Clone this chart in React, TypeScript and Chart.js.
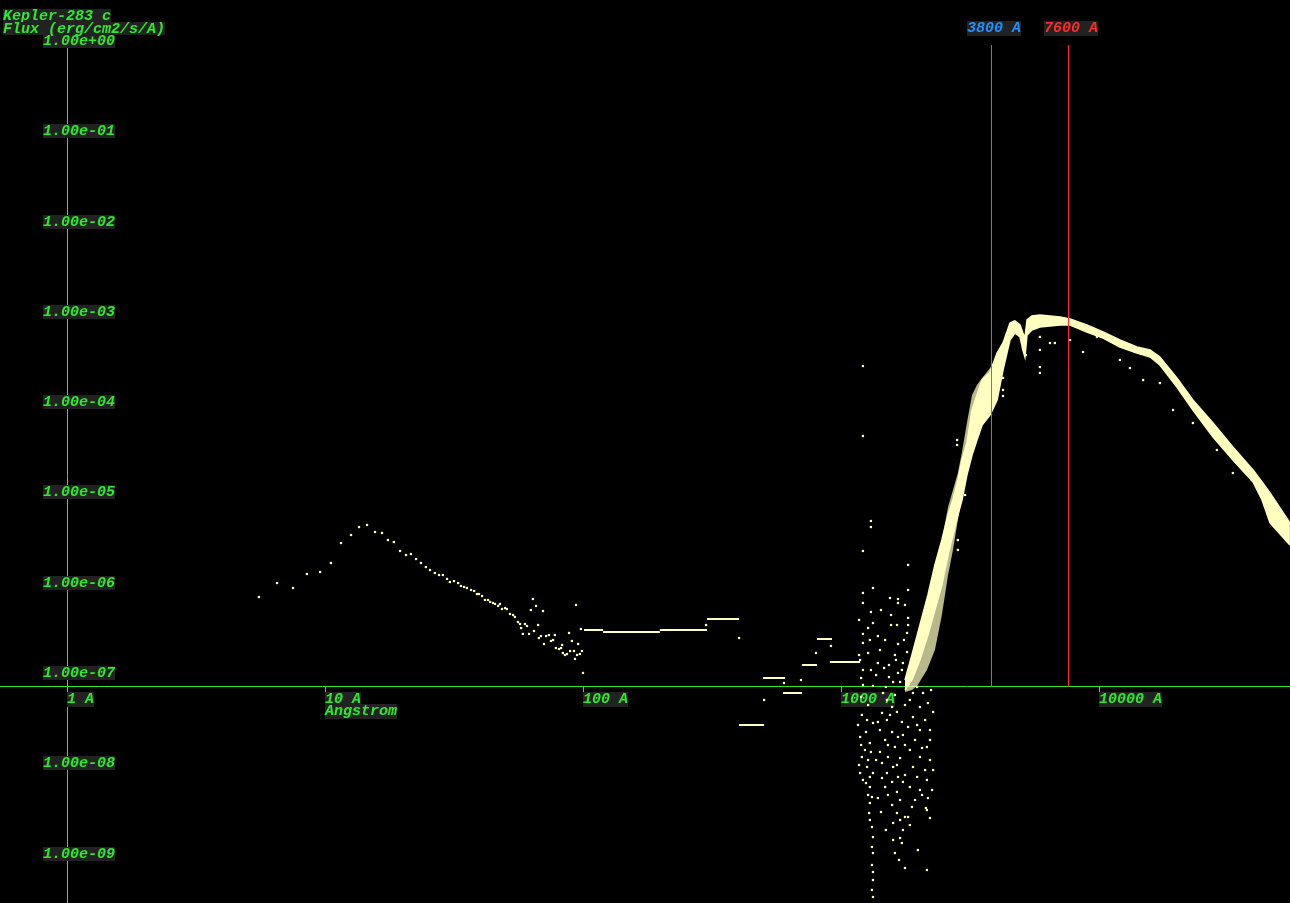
import React, { useEffect, useRef } from 'react';
import { Chart, registerables } from 'chart.js';

Chart.register(...registerables);

// ---------- axis ranges and labels ----------
const X_MIN = 0.55;      // Angstrom at left edge
const X_MAX = 55000;     // Angstrom at right edge
const Y_MIN = 3.4e-10;   // flux at bottom edge
const Y_MAX = 3.4;       // flux at top edge
const X_AXIS_FLUX = 8.6e-8; // flux level where the wavelength axis is drawn
const Y_AXIS_WAVE = 1;      // wavelength where the flux axis is drawn

const titleLines = ['Kepler-283 c', 'Flux (erg/cm2/s/A)'];
const xAxisName = 'Angstrom';
const xTickValues = [1, 10, 100, 1000, 10000];
const xTickLabels = ['1 A', '10 A', '100 A', '1000 A', '10000 A'];
const yTickValues = [1, 1e-1, 1e-2, 1e-3, 1e-4, 1e-5, 1e-6, 1e-7, 1e-8, 1e-9];
const yTickLabels = ['1.00e+00', '1.00e-01', '1.00e-02', '1.00e-03', '1.00e-04', '1.00e-05', '1.00e-06', '1.00e-07', '1.00e-08', '1.00e-09'];
const markerWaves = [3800, 7600];
const markerLabels = ['3800 A', '7600 A'];
const markerColors = ['#1e90ff', '#ff2a2a'];

// ---------- data (log10 wavelength [A], log10 flux) ----------
const xrayLogLambda = [0.744, 0.814, 0.876, 0.930, 0.981, 1.023, 1.062, 1.101, 1.132, 1.163,
  1.194, 1.221, 1.244, 1.267, 1.291, 1.314, 1.333, 1.353, 1.372, 1.391,
  1.407, 1.426, 1.442, 1.457, 1.473, 1.484, 1.500, 1.516, 1.527, 1.539,
  1.550, 1.566, 1.578, 1.589, 1.597, 1.609, 1.620, 1.632, 1.640, 1.651,
  1.659, 1.671, 1.678, 1.686, 1.698, 1.705, 1.717, 1.729, 1.736, 1.748,
  1.756, 1.760, 1.767, 1.775, 1.783, 1.791, 1.798, 1.806, 1.810, 1.818,
  1.826, 1.829, 1.837, 1.845, 1.849, 1.857, 1.868, 1.876, 1.884, 1.891,
  1.895, 1.907, 1.915, 1.919, 1.922, 1.930, 1.938, 1.946, 1.950, 1.957,
  1.965, 1.969, 1.973, 1.977, 1.981, 1.988, 1.992, 1.996, 2.000];
const xrayLogFlux = [-6.080, -5.925, -5.980, -5.825, -5.803, -5.703, -5.482, -5.393, -5.305, -5.282,
  -5.360, -5.371, -5.449, -5.471, -5.570, -5.615, -5.604, -5.659, -5.703, -5.748,
  -5.781, -5.814, -5.836, -5.836, -5.880, -5.914, -5.903, -5.925, -5.958, -5.969,
  -5.980, -6.002, -6.013, -6.047, -6.047, -6.069, -6.113, -6.113, -6.135, -6.146,
  -6.157, -6.179, -6.157, -6.213, -6.202, -6.213, -6.268, -6.279, -6.301, -6.357,
  -6.379, -6.423, -6.489, -6.379, -6.401, -6.489, -6.224, -6.102, -6.456, -6.179,
  -6.390, -6.534, -6.512, -6.235, -6.600, -6.512, -6.501, -6.567, -6.556, -6.501,
  -6.645, -6.656, -6.645, -6.611, -6.700, -6.722, -6.711, -6.478, -6.678, -6.567,
  -6.678, -6.766, -6.168, -6.722, -6.600, -6.711, -6.434, -6.678, -6.921];

// flat EUV bins (start, end, flux)
const binStartLogLambda = [2.004, 2.078, 2.298, 2.481, 2.605, 2.698, 2.775, 2.849, 2.907, 2.957];
const binEndLogLambda = [2.078, 2.298, 2.481, 2.605, 2.702, 2.783, 2.849, 2.907, 2.965, 3.074];
const binLogFlux = [-6.445, -6.467, -6.445, -6.323, -7.497, -6.977, -7.143, -6.833, -6.545, -6.800];

const euvLogLambda = [2.477, 2.605, 2.702, 2.779, 2.845, 2.903, 2.961];
const euvLogFlux = [-6.390, -6.534, -7.220, -7.032, -6.999, -6.700, -6.622];

// scattered far-UV points [log10 lambda, log10 flux]
const uvCloud: [number, number][] = [
  [3.085, -3.522], [3.085, -4.297], [3.116, -5.238], [3.116, -5.305], [3.085, -5.570],
  [3.260, -5.725], [3.124, -5.980], [3.260, -6.002], [3.085, -6.035], [3.190, -6.091],
  [3.221, -6.102], [3.085, -6.146], [3.221, -6.146], [3.116, -6.246], [3.194, -6.279],
  [3.260, -6.312], [3.070, -6.334], [3.124, -6.368], [3.194, -6.390], [3.217, -6.390],
  [3.260, -6.390], [3.085, -6.489], [3.143, -6.512], [3.256, -6.478], [3.085, -6.589],
  [3.221, -6.600], [3.105, -6.700], [3.070, -6.722], [3.256, -6.689], [3.143, -6.811],
  [3.186, -6.833], [3.240, -6.811], [3.085, -6.888], [3.116, -6.888], [3.221, -6.921],
  [3.186, -6.966], [3.078, -6.977], [3.267, -6.966], [3.229, -7.021], [3.174, -7.076],
  [3.124, -7.065],
  [3.151, -6.667], [3.171, -6.556], [3.209, -6.722], [3.136, -6.944], [3.202, -7.021],
  [3.236, -6.888], [3.105, -6.423], [3.155, -6.224], [3.244, -6.556], [3.074, -6.777],
  [3.167, -6.866], [3.213, -6.777], [3.112, -6.556], [3.248, -6.168],
  [3.450, -4.341], [3.450, -4.396], [3.453, -5.449], [3.453, -5.559], [3.481, -4.950],
  [3.628, -3.654], [3.628, -3.787], [3.628, -3.854],
  // below the wavelength axis
  [3.085, -7.054], [3.081, -7.386], [3.101, -7.442], [3.074, -7.630], [3.112, -7.697],
  [3.093, -7.774], [3.081, -7.852], [3.105, -7.885], [3.101, -7.962], [3.074, -8.029],
  [3.112, -8.073], [3.085, -8.106], [3.112, -8.184], [3.105, -8.272], [3.112, -8.361],
  [3.109, -8.472], [3.120, -8.627], [3.124, -8.738], [3.120, -8.848], [3.124, -8.915],
  [3.120, -9.048], [3.124, -9.125], [3.124, -9.214], [3.120, -9.324], [3.124, -9.402],
  [3.124, -7.475], [3.124, -8.029],
  [3.066, -7.497], [3.097, -7.575], [3.116, -7.796], [3.070, -7.940], [3.097, -8.140],
  [3.120, -8.295], [3.078, -7.719], [3.105, -7.276], [3.078, -7.187], [3.112, -8.549],
  [3.178, -7.220], [3.198, -7.298], [3.159, -7.364], [3.217, -7.353], [3.178, -7.442],
  [3.236, -7.464], [3.151, -7.553], [3.198, -7.575], [3.221, -7.630], [3.171, -7.663],
  [3.209, -7.741], [3.151, -7.796], [3.182, -7.852], [3.229, -7.863], [3.159, -7.918],
  [3.202, -7.962], [3.178, -8.029], [3.221, -8.073], [3.198, -8.128], [3.171, -8.184],
  [3.217, -8.239], [3.143, -8.306], [3.229, -8.328], [3.198, -8.383], [3.217, -8.472],
  [3.229, -8.549], [3.202, -8.582], [3.248, -8.516], [3.240, -8.660], [3.229, -8.749],
  [3.209, -8.915], [3.248, -9.081], [3.236, -8.804], [3.260, -8.516],
  [3.163, -7.143], [3.209, -7.165], [3.190, -7.386], [3.143, -7.464], [3.240, -7.608],
  [3.182, -7.719], [3.136, -7.885], [3.217, -7.940], [3.159, -8.084], [3.240, -8.128],
  [3.182, -8.272], [3.155, -8.461], [3.202, -8.771], [3.225, -8.992], [3.174, -8.660],
  [3.295, -7.076], [3.318, -7.143], [3.267, -7.220], [3.306, -7.298], [3.337, -7.254],
  [3.279, -7.409], [3.326, -7.442], [3.260, -7.519], [3.306, -7.553], [3.345, -7.553],
  [3.287, -7.663], [3.333, -7.741], [3.267, -7.774], [3.306, -7.852], [3.345, -7.885],
  [3.279, -7.962], [3.326, -7.996], [3.295, -8.073], [3.333, -8.106], [3.267, -8.184],
  [3.306, -8.217], [3.337, -8.306], [3.333, -8.439], [3.287, -8.328], [3.275, -8.405],
  [3.333, -9.103],
  [3.349, -7.110], [3.279, -7.143], [3.248, -7.276], [3.357, -7.353], [3.295, -7.497],
  [3.345, -7.663], [3.248, -7.719], [3.314, -7.752], [3.357, -7.996], [3.248, -8.051],
  [3.314, -8.272], [3.353, -8.217], [3.267, -8.605], [3.345, -8.527], [3.298, -8.882],
  [3.329, -8.417],
];

// absorption-line dips below the stellar continuum
const dipPoints: [number, number][] = [
  [3.771, -3.200], [3.771, -3.344], [3.771, -3.533], [3.771, -3.599], [3.810, -3.267],
  [3.829, -3.267], [3.888, -3.234], [3.938, -3.367], [3.992, -3.200], [4.081, -3.455],
  [4.120, -3.544], [4.171, -3.677], [4.236, -3.710], [4.287, -4.009], [4.364, -4.153],
  [4.457, -4.452], [4.519, -4.707], [3.717, -3.400],
];

// loose envelope of the rising (speckled) UV/blue part of the continuum
const envLogLambda = [3.248, 3.275, 3.295, 3.333, 3.364, 3.391, 3.415, 3.434, 3.453, 3.469,
  3.488, 3.508, 3.527, 3.547, 3.578, 3.605, 3.628];
const envUpperLogFlux = [-7.065, -6.777, -6.556, -6.113, -5.814, -5.449, -5.083, -4.895, -4.707, -4.474,
  -4.153, -3.843, -3.732, -3.654, -3.544, -3.422, -3.267];
const envLowerLogFlux = [-7.132, -7.110, -7.065, -6.888, -6.667, -6.279, -5.836, -5.559, -5.227, -4.983,
  -4.729, -4.452, -4.175, -4.031, -3.898, -3.810, -3.588];

// stellar continuum band (dense core)
const bandLogLambda = [3.248, 3.275, 3.306, 3.337, 3.364, 3.391, 3.415, 3.434, 3.453, 3.469,
  3.488, 3.508, 3.527, 3.547, 3.578, 3.605, 3.628, 3.655, 3.674, 3.694,
  3.705, 3.713, 3.721, 3.740, 3.771, 3.849, 3.888, 3.953, 4.016, 4.081,
  4.147, 4.198, 4.236, 4.302, 4.364, 4.442, 4.519, 4.597, 4.632, 4.663, 4.740];
const bandUpperLogFlux = [-6.999, -6.722, -6.390, -6.058, -5.725, -5.449, -5.172, -5.006, -4.784, -4.563,
  -4.374, -4.009, -3.843, -3.677, -3.588, -3.378, -3.267, -3.045, -3.023, -3.068,
  -3.156, -3.212, -3.012, -2.968, -2.957, -2.979, -3.001, -3.068, -3.145, -3.234,
  -3.311, -3.344, -3.422, -3.654, -3.898, -4.153, -4.419, -4.673, -4.806, -4.928, -5.260];
const bandLowerLogFlux = [-7.110, -6.999, -6.777, -6.501, -6.224, -5.947, -5.615, -5.393, -5.172, -5.006,
  -4.729, -4.507, -4.341, -4.175, -4.064, -3.898, -3.566, -3.234, -3.156, -3.200,
  -3.344, -3.422, -3.178, -3.123, -3.090, -3.068, -3.068, -3.145, -3.212, -3.311,
  -3.378, -3.422, -3.511, -3.754, -4.009, -4.308, -4.563, -4.806, -5.006, -5.260, -5.504];

// ---------- styling ----------
const GREEN = '#2eea2e';
const BOX = '#222222';
const DATA = '#ffffc0';
const DATA_SOFT = 'rgba(255,255,192,0.72)';
const FONT = 'bold italic 15px "Liberation Mono", "DejaVu Sans Mono", monospace';

const pw = (v: number) => Math.pow(10, v);
const pairPts = (a: number[], b: number[]) => a.map((v, i) => ({ x: pw(v), y: pw(b[i]) }));
const listPts = (p: [number, number][]) => p.map(([a, b]) => ({ x: pw(a), y: pw(b) }));

function boxText(ctx: CanvasRenderingContext2D, text: string, left: number, top: number, color: string, h = 14) {
  const w = ctx.measureText(text).width;
  ctx.fillStyle = BOX;
  ctx.fillRect(left, top, w, h);
  ctx.fillStyle = color;
  ctx.fillText(text, left, top + 11);
}

const overlayPlugin = {
  id: 'overlay',
  beforeDraw(chart: any) {
    const { ctx, width, height } = chart;
    ctx.save();
    ctx.fillStyle = '#000';
    ctx.fillRect(0, 0, width, height);
    ctx.restore();
  },
  beforeDatasetsDraw(chart: any) {
    const { ctx, width, height } = chart;
    const xs = chart.scales.x;
    const ys = chart.scales.y;
    const axisY = Math.round(ys.getPixelForValue(X_AXIS_FLUX)) + 0.5;
    const axisX = Math.round(xs.getPixelForValue(Y_AXIS_WAVE)) + 0.5;
    ctx.save();
    ctx.lineWidth = 1;
    ctx.strokeStyle = GREEN;
    ctx.beginPath();
    ctx.moveTo(axisX, Math.round(ys.getPixelForValue(yTickValues[0])));
    ctx.lineTo(axisX, height);
    ctx.stroke();
    ctx.beginPath();
    ctx.moveTo(0, axisY);
    ctx.lineTo(width, axisY);
    ctx.stroke();
    xTickValues.forEach((v) => {
      const px = Math.round(xs.getPixelForValue(v)) + 0.5;
      ctx.beginPath();
      ctx.moveTo(px, axisY);
      ctx.lineTo(px, axisY + 6);
      ctx.stroke();
    });
    ctx.font = FONT;
    ctx.textBaseline = 'alphabetic';
    ctx.textAlign = 'left';
    xTickValues.forEach((v, i) => {
      const px = Math.round(xs.getPixelForValue(v));
      boxText(ctx, xTickLabels[i], px, axisY + 5.5, GREEN, 15);
    });
    boxText(ctx, xAxisName, Math.round(xs.getPixelForValue(xTickValues[1])), axisY + 17.5, GREEN, 15);
    yTickValues.forEach((v, i) => {
      const py = Math.round(ys.getPixelForValue(v));
      boxText(ctx, yTickLabels[i], 43, py - 14, GREEN, 14);
    });
    boxText(ctx, titleLines[0], 3, 9, GREEN, 13);
    boxText(ctx, titleLines[1], 3, 22, GREEN, 13);
    ctx.restore();
  },
  afterDatasetsDraw(chart: any) {
    const { ctx } = chart;
    const xs = chart.scales.x;
    const ys = chart.scales.y;
    const axisY = Math.round(ys.getPixelForValue(X_AXIS_FLUX)) + 0.5;
    ctx.save();
    ctx.lineWidth = 1;
    ctx.font = FONT;
    ctx.textBaseline = 'alphabetic';
    markerWaves.forEach((w, i) => {
      const px = Math.round(xs.getPixelForValue(w)) + 0.5;
      ctx.strokeStyle = markerColors[i];
      ctx.beginPath();
      ctx.moveTo(px, 45);
      ctx.lineTo(px, axisY);
      ctx.stroke();
      const tw = ctx.measureText(markerLabels[i]).width;
      boxText(ctx, markerLabels[i], Math.round(px + 3 - tw / 2), 21, markerColors[i], 15);
    });
    ctx.restore();
  },
};

export default function App() {
  const ref = useRef<HTMLCanvasElement | null>(null);
  useEffect(() => {
    document.body.style.margin = '0';
    document.body.style.background = '#000';
    const canvas = ref.current;
    if (!canvas) return;

    const binData: any[] = [];
    binStartLogLambda.forEach((s, i) => {
      binData.push({ x: pw(s), y: pw(binLogFlux[i]) });
      binData.push({ x: pw(binEndLogLambda[i]), y: pw(binLogFlux[i]) });
      binData.push({ x: pw(binEndLogLambda[i]), y: null });
    });

    const pointStyle = {
      type: 'scatter' as const,
      showLine: false,
      pointStyle: 'rect' as const,
      pointRadius: 1.6,
      pointBorderWidth: 0,
      pointBackgroundColor: DATA,
      borderColor: DATA,
      backgroundColor: DATA,
    };

    const chart = new Chart(canvas, {
      type: 'scatter',
      data: {
        datasets: [
          {
            type: 'line',
            data: pairPts(envLogLambda, envUpperLogFlux),
            borderColor: 'rgba(0,0,0,0)',
            borderWidth: 0,
            pointRadius: 0,
            fill: false,
            tension: 0,
          } as any,
          {
            type: 'line',
            data: pairPts(envLogLambda, envLowerLogFlux),
            borderColor: 'rgba(0,0,0,0)',
            backgroundColor: DATA_SOFT,
            borderWidth: 0,
            pointRadius: 0,
            fill: '-1',
            tension: 0,
          } as any,
          {
            type: 'line',
            data: pairPts(bandLogLambda, bandUpperLogFlux),
            borderColor: DATA,
            borderWidth: 1.5,
            pointRadius: 0,
            fill: false,
            tension: 0,
          } as any,
          {
            type: 'line',
            data: pairPts(bandLogLambda, bandLowerLogFlux),
            borderColor: DATA,
            backgroundColor: DATA,
            borderWidth: 1.5,
            pointRadius: 0,
            fill: '-1',
            tension: 0,
          } as any,
          {
            type: 'line',
            data: binData,
            borderColor: DATA,
            borderWidth: 2,
            pointRadius: 0,
            spanGaps: false,
            fill: false,
          } as any,
          { ...pointStyle, data: pairPts(xrayLogLambda, xrayLogFlux) },
          { ...pointStyle, data: pairPts(euvLogLambda, euvLogFlux) },
          { ...pointStyle, data: listPts(uvCloud) },
          { ...pointStyle, data: listPts(dipPoints) },
        ],
      },
      options: {
        responsive: false,
        animation: false,
        events: [],
        layout: { padding: 0, autoPadding: false },
        plugins: { legend: { display: false }, tooltip: { enabled: false }, title: { display: false } },
        scales: {
          x: { type: 'logarithmic', min: X_MIN, max: X_MAX, display: false },
          y: { type: 'logarithmic', min: Y_MIN, max: Y_MAX, display: false },
        },
      },
      plugins: [overlayPlugin],
    });
    return () => chart.destroy();
  }, []);

  return <canvas ref={ref} width={1290} height={903} style={{ display: 'block' }} />;
}
